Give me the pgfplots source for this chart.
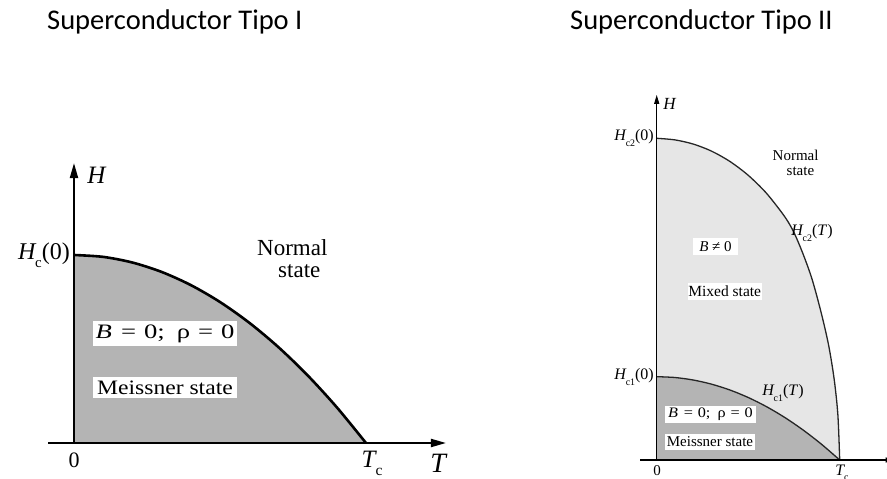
\documentclass[border=0pt]{standalone}
\usepackage{graphicx}
\usepackage{fontspec}
\setmainfont{Liberation Serif}
\newfontfamily\titlefont{Carlito}
\usepackage{pgfplots}
\pgfplotsset{compat=1.18}
\usetikzlibrary{arrows.meta}

\definecolor{meissner}{RGB}{180,180,180}
\definecolor{mixed}{RGB}{230,230,230}
\newcommand\fs[1]{\fontsize{#1}{#1}\selectfont}
% lowered, reduced subscript set right against the preceding italic letter
\newcommand\lo[1]{\kern-0.06em\raisebox{-0.32em}{\scalebox{0.62}{#1}}}
% "B = 0; rho = 0", set wide like the other boxed labels
\newcommand\bzero{\textit{B}\hspace{0.35em}=\hspace{0.3em}0;\hspace{0.45em}ρ\hspace{0.3em}=\hspace{0.3em}0}

\begin{document}
\begin{tikzpicture}[x=1pt,y=1pt]
\path[use as bounding box] (0,0) rectangle (887,479);

% ---------------- Type I ----------------
\begin{axis}[
  at={(48pt,36pt)}, anchor=south west,
  x=292pt, y=188pt,
  xmin=-0.089, xmax=1.274, ymin=0, ymax=1.489,
  axis lines=middle, enlargelimits=false,
  xtick=\empty, ytick=\empty,
  axis line style={line width=2pt, -{Triangle[length=15pt,width=8pt]}},
  axis on top, clip=false,
]
\addplot[fill=meissner, draw=none, smooth] coordinates {
  (0,1) (0.1,0.99) (0.2,0.96) (0.3,0.91) (0.4,0.84) (0.5,0.75)
  (0.6,0.64) (0.7,0.51) (0.8,0.36) (0.9,0.19) (1,0)} \closedcycle;
\addplot[line width=2.6pt, smooth] coordinates {
  (0,1) (0.1,0.99) (0.2,0.96) (0.3,0.91) (0.4,0.84) (0.5,0.75)
  (0.6,0.64) (0.7,0.51) (0.8,0.36) (0.9,0.19) (1,0)};
\end{axis}

\node[anchor=base west, inner sep=0] at (47,449.7) {\titlefont\fs{28.5}Superconductor Tipo I};
\node at (97,304) {\fs{25}\textit{H}};
\node[anchor=east, inner sep=1pt] at (71,224) {\fs{24}\textit{H}\lo{c}(0)};
\node[anchor=west, inner sep=0, align=left, font=\fontsize{23}{22}\selectfont] at (257,220) {Normal\\\hspace*{21pt}state};
\node[fill=white, minimum width=144.6pt, minimum height=25pt, inner sep=0] at (165,145) {\scalebox{1.3}[1]{\fs{20.5}\bzero}};
\node[fill=white, minimum width=144.6pt, minimum height=21.6pt, inner sep=0] at (165,91.5) {\scalebox{1.15}[1]{\fs{20.5}Meissner state}};
\node at (74,19) {\fs{22}0};
\node at (372,16) {\fs{25}\textit{T}\lo{c}};
\node at (439,16) {\fs{28}\textit{T}};

% ---------------- Type II ----------------
\begin{axis}[
  at={(640pt,19pt)}, anchor=south west,
  x=183pt, y=321.7pt,
  xmin=-0.0913, xmax=1.3, ymin=0, ymax=1.135,
  axis lines=middle, enlargelimits=false,
  xtick=\empty, ytick=\empty,
  axis line style={line width=1.2pt, -{Triangle[length=9pt,width=5pt]}},
  axis on top, clip=false,
]
% mixed-state region bounded by Hc2(T)
\addplot[fill=mixed, draw=none, smooth, tension=0.5] coordinates {
  (0,1) (0.1,0.995) (0.2,0.982) (0.3,0.960) (0.4,0.928) (0.5,0.885)
  (0.6,0.829) (0.7,0.756) (0.75,0.707) (0.8,0.640) (0.85,0.560)
  (0.9,0.455) (0.94,0.355) (0.97,0.250) (0.99,0.140) (1,0)} \closedcycle;
% Meissner region bounded by Hc1(T)
\addplot[fill=meissner, draw=none, smooth] coordinates {
  (0,0.259) (0.1,0.2564) (0.2,0.2486) (0.3,0.2357) (0.4,0.2176) (0.5,0.1943)
  (0.6,0.1658) (0.7,0.1321) (0.8,0.0932) (0.9,0.0492) (1,0)} \closedcycle;
\addplot[line width=1.3pt, color=black!85, smooth, tension=0.5] coordinates {
  (0,1) (0.1,0.995) (0.2,0.982) (0.3,0.960) (0.4,0.928) (0.5,0.885)
  (0.6,0.829) (0.7,0.756) (0.75,0.707) (0.8,0.640) (0.85,0.560)
  (0.9,0.455) (0.94,0.355) (0.97,0.250) (0.99,0.140) (1,0)};
\addplot[line width=1.3pt, color=black!85, smooth] coordinates {
  (0,0.259) (0.1,0.2564) (0.2,0.2486) (0.3,0.2357) (0.4,0.2176) (0.5,0.1943)
  (0.6,0.1658) (0.7,0.1321) (0.8,0.0932) (0.9,0.0492) (1,0)};
\end{axis}

\node[anchor=base west, inner sep=0] at (570,449.7) {\titlefont\fs{28.5}Superconductor Tipo II};
\node at (670,375) {\fs{17}\textit{H}};
\node[anchor=east, inner sep=1pt] at (655,341) {\fs{16}\textit{H}\lo{c2}(0)};
\node[anchor=west, inner sep=0, align=left, font=\fontsize{15}{15}\selectfont] at (772.5,316.5) {Normal\\\hspace*{14pt}state};
\node at (812,246) {\fs{16}\textit{H}\lo{c2}(\textit{T})};
\node[fill=white, minimum width=45.6pt, minimum height=17pt, inner sep=0] at (715.5,232.3) {\fs{15}\textit{B} ≠ 0};
\node[fill=white, minimum width=74pt, minimum height=17pt, inner sep=0] at (724.7,187.3) {\fs{15.5}Mixed state};
\node[anchor=east, inner sep=1pt] at (655,102) {\fs{16}\textit{H}\lo{c1}(0)};
\node at (783,86) {\fs{16}\textit{H}\lo{c1}(\textit{T})};
\node[fill=white, minimum width=91pt, minimum height=17pt, inner sep=0] at (710.5,64.5) {\scalebox{1.12}[1]{\fs{14.5}\bzero}};
\node[fill=white, minimum width=90pt, minimum height=16pt, inner sep=0] at (710,37) {\fs{15}Meissner state};
\node at (657,8) {\fs{15}0};
\node at (842,6) {\fs{16}\textit{T}\lo{c}};
\node at (891,6) {\fs{17}\textit{T}};
\end{tikzpicture}
\end{document}
